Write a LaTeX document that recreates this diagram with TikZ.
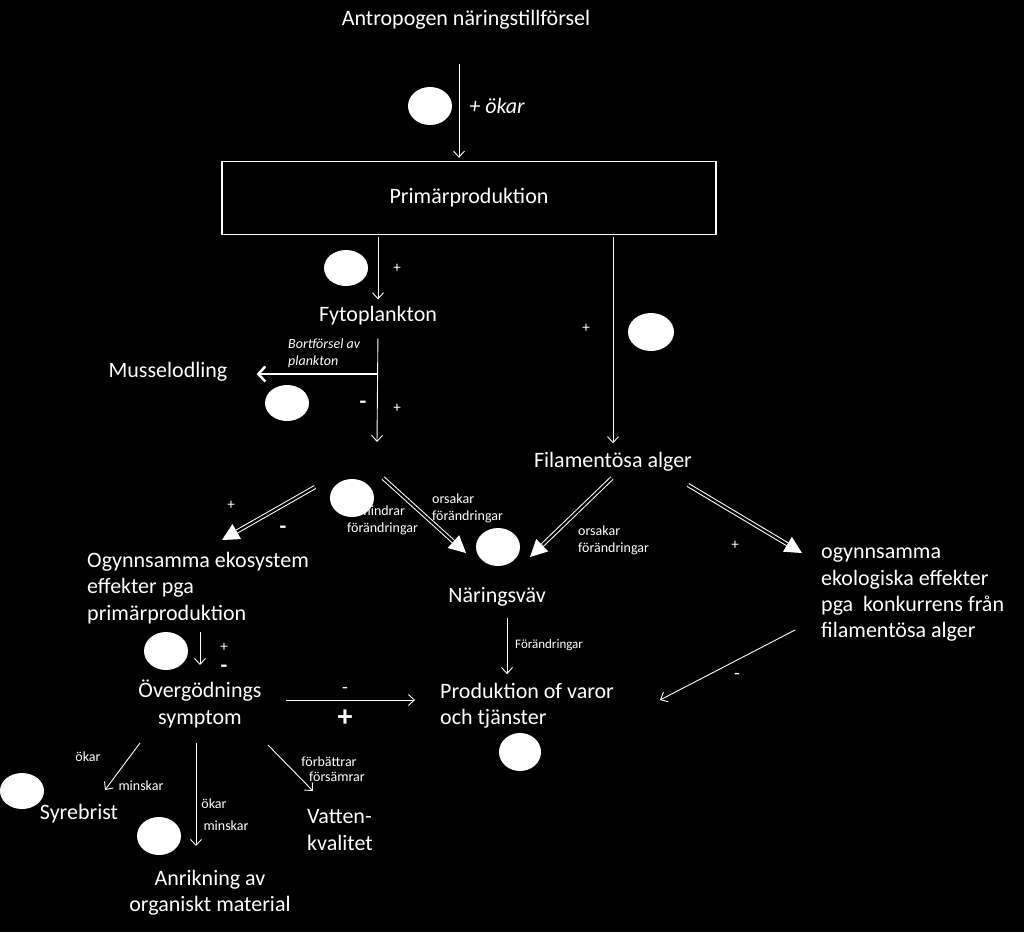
\documentclass[tikz,border=0pt]{standalone}
\usepackage{fontspec}
\setmainfont{Carlito}
\usetikzlibrary{arrows.meta,shapes.geometric}

\begin{document}
\begin{tikzpicture}[x=1pt,y=-1pt]
\tikzset{txt/.style={text=white,font=\fontsize{22}{26.3}\selectfont,inner sep=2pt}}
\tikzset{lbl/.style={text=white,font=\fontsize{14}{17}\selectfont,inner sep=0pt,align=left}}
\tikzset{sgn/.style={text=white,font=\fontsize{15}{15}\selectfont,inner sep=0pt}}
\tikzset{bigsgn/.style={text=white,font=\fontsize{24}{24}\selectfont\bfseries,inner sep=0pt}}
\tikzset{arr/.style={draw=white,line width=0.9pt,-{Straight Barb[length=6pt,width=11pt]}}}
\tikzset{dblarr/.style={draw=white,double=black,double distance=2.2pt,line width=1pt,-{Triangle[length=17pt,width=17pt,fill=white]}}}
\tikzset{blob/.style={ellipse,fill=white,minimum width=44pt,minimum height=38pt,inner sep=0pt}}

\fill[black] (0,0) rectangle (1024,932);
\useasboundingbox (0,0) rectangle (1024,932);

% main boxes
\node[txt] (anthro) at (466,20) {Antropogen näringstillförsel};
\node[txt,draw=white,line width=1.5pt,minimum width=494pt,minimum height=73pt] (prim) at (469,198) {Primärproduktion};
\node[txt] (fyto) at (378,316) {Fytoplankton};
\node[txt] (mussel) at (168,372) {Musselodling};
\node[txt] (fila) at (613,462) {Filamentösa alger};
\node[txt,anchor=north west,align=left] (ogyn) at (85,550) {Ogynnsamma ekosystem\\effekter pga\\primärproduktion};
\node[txt] (narings) at (497,597) {Näringsväv};
\node[txt,anchor=north west,align=left] (ogeko) at (819,546) {ogynnsamma\\ekologiska effekter\\pga\ \ konkurrens från\\filamentösa alger};
\node[txt,align=center] (overg) at (200,704) {Övergödnings\\symptom};
\node[txt,anchor=west,align=left] (prod) at (438,706) {Produktion of varor\\och tjänster};
\node[txt] (syre) at (79,814) {Syrebrist};
\node[txt,align=center] (anrik) at (210,893) {Anrikning av\\organiskt material};
\node[txt,anchor=west,align=left] (vatten) at (305,830) {Vatten-\\kvalitet};

\coordinate (hub) at (377,442);
\coordinate (branch) at (377,374);

% connectors
\draw[arr,shorten <=32pt,shorten >=3pt] ([xshift=-7pt]anthro.south) -- ([xshift=-10pt]prim.north);
\draw[arr,shorten <=2pt,shorten >=5pt] (prim.south -| fyto) -- (fyto.north);
\draw[arr,shorten <=2pt,shorten >=7pt] (prim.south -| fila) -- (fila.north);
\draw[arr,shorten <=11pt] (fyto.south) -- (hub);
\draw[draw=white,line width=2.5pt,-{Straight Barb[length=7pt,width=15pt]},shorten >=27pt] (branch) -- (branch -| mussel.east);
\draw[dblarr] ([shift={(-62,45)}]hub) -- ([shift={(137,-10)}]ogyn.north west);
\draw[dblarr] ([shift={(6,36)}]hub) -- ([shift={(-31,-44)}]narings.center);
\draw[dblarr] ([shift={(-1,16)}]fila.center) -- ([shift={(33,-40)}]narings.center);
\draw[dblarr] ([shift={(75,23)}]fila.center) -- ([shift={(-17,7)}]ogeko.north west);
\draw[arr] ([shift={(0,-72)}]overg.center) -- ([shift={(0,-39)}]overg.center);
\draw[arr,shorten <=9pt,shorten >=7pt] (narings.south -| 507,0) -- (prod.north -| 507,0);
\draw[arr] ([shift={(86,-4)}]overg.center) -- ([shift={(-23,-6)}]prod.west);
\draw[arr] ([shift={(-24,84)}]ogeko.north west) -- ([shift={(222,-6)}]prod.west);
\draw[arr] ([shift={(-60,39)}]overg.center) -- ([shift={(26,-24)}]syre.center);
\draw[arr] ([shift={(-4,39)}]overg.center) -- ([shift={(-14,-47)}]anrik.center);
\draw[arr] ([shift={(68,41)}]overg.center) -- ([shift={(8,-39)}]vatten.west);

% labels
\node[text=white,font=\fontsize{22}{22}\selectfont\itshape,inner sep=0pt] (okar) at (497,106) {+ ökar};
\node[lbl,font=\fontsize{14}{17}\selectfont\itshape,anchor=west] (bort) at (288,353) {Bortförsel av\\plankton};
\node[lbl,anchor=west] (forhin) at (347,520) {förhindrar\\förändringar};
\node[lbl,anchor=west] (orsak1) at (432,508) {orsakar\\förändringar};
\node[lbl,anchor=west] (orsak2) at (578,540) {orsakar\\förändringar};
\node[lbl,font=\fontsize{13}{15}\selectfont,anchor=west] (forand) at (515,645) {Förändringar};
\node[lbl] (okar1) at (88,757) {ökar};
\node[lbl] (minsk1) at (141,786) {minskar};
\node[lbl] (okar2) at (214,804) {ökar};
\node[lbl] (minsk2) at (226,826) {minskar};
\node[lbl] (forb) at (329,762) {förbättrar};
\node[lbl] (fors) at (337,777) {försämrar};

% signs
\node[sgn] (p1) at (397,268) {+};
\node[sgn] (p2) at (586,328) {+};
\node[bigsgn,font=\fontsize{22}{22}\selectfont\bfseries] (m1) at (363,405) {-};
\node[sgn] (p3) at (397,408) {+};
\node[sgn] (p4) at (231,505) {+};
\node[bigsgn,font=\fontsize{22}{22}\selectfont\bfseries] (m2) at (283,530) {-};
\node[sgn] (p5) at (735,545) {+};
\node[sgn] (p6) at (224,647) {+};
\node[bigsgn,font=\fontsize{22}{22}\selectfont\bfseries] (m3) at (224,669) {-};
\node[sgn,font=\fontsize{19}{19}\selectfont] (m4) at (345,690) {-};
\node[bigsgn,font=\fontsize{30}{30}\selectfont\bfseries] (p7) at (345,718) {+};
\node[sgn,font=\fontsize{19}{19}\selectfont] (m5) at (737,676) {-};

% blobs
\node[blob] (b1) at (430,106) {};
\node[blob,minimum height=36pt] (b2) at (346,268) {};
\node[blob,minimum width=46pt] (b3) at (651,332) {};
\node[blob,minimum height=36pt] (b4) at (287,403) {};
\node[blob] (b5) at (352,498) {};
\node[blob] (b6) at (498,547) {};
\node[blob] (b7) at (166,651) {};
\node[blob,minimum width=42pt] (b8) at (520,752) {};
\node[blob,minimum height=36pt] (b9) at (22,791) {};
\node[blob] (b10) at (159,836) {};
\end{tikzpicture}
\end{document}
